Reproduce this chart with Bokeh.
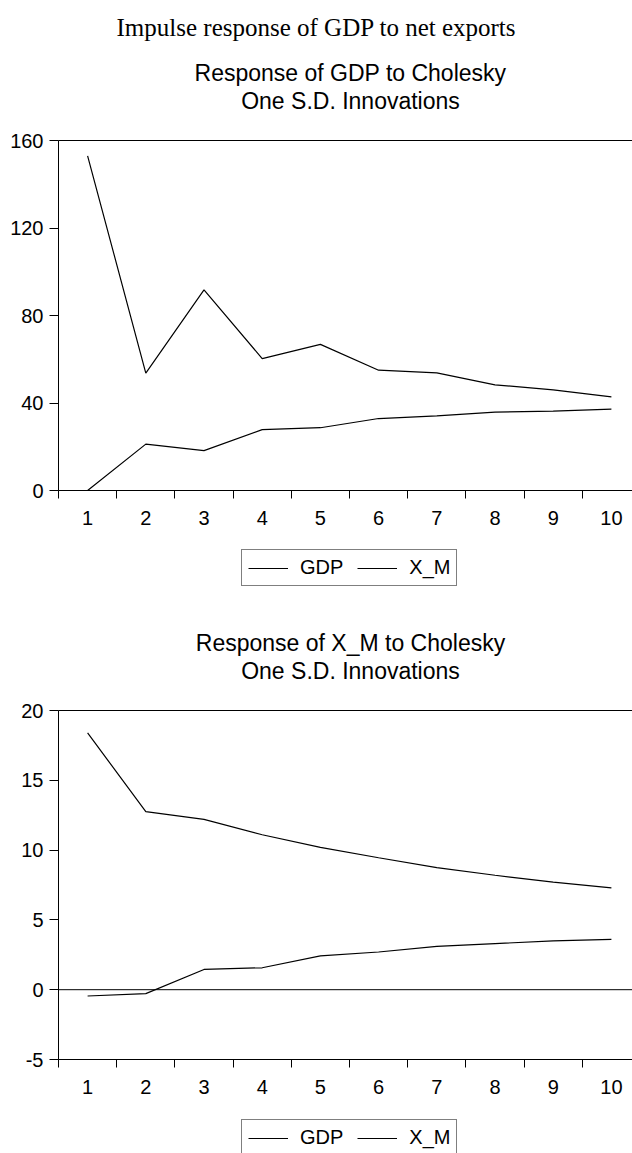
from bokeh.plotting import figure
from bokeh.models import (LinearAxis, FixedTicker, Span, Label, Legend,
                          LegendItem, Range1d)
from bokeh.layouts import column
from bokeh.embed import file_html
from bokeh.resources import INLINE

# ---------------- data ----------------
periods = [1, 2, 3, 4, 5, 6, 7, 8, 9, 10]
series_names = ["GDP", "X_M"]

# Response of GDP to Cholesky one S.D. innovations
gdp_resp_to_gdp = [153.0, 53.7, 91.7, 60.3, 66.8, 55.0, 53.8, 48.3, 46.0, 42.8]
gdp_resp_to_xm = [0.0, 21.2, 18.2, 27.8, 28.7, 32.9, 34.1, 35.8, 36.3, 37.2]

# Response of X_M to Cholesky one S.D. innovations
xm_resp_to_gdp = [-0.45, -0.28, 1.45, 1.57, 2.42, 2.7, 3.1, 3.3, 3.5, 3.6]
xm_resp_to_xm = [18.4, 12.75, 12.2, 11.1, 10.2, 9.45, 8.75, 8.2, 7.7, 7.3]

y_ticks_top = [0, 40, 80, 120, 160]
y_ticks_bottom = [-5, 0, 5, 10, 15, 20]

main_title = "Impulse response of GDP to net exports"
titles_top = ["Response of GDP to Cholesky", "One S.D. Innovations"]
titles_bottom = ["Response of X_M to Cholesky", "One S.D. Innovations"]

SANS = "Liberation Sans"
SERIF = "Liberation Serif"
W = 632
LEFT = 58
SUB_CX = 350 - LEFT    # sub-title centre, from the (aligned) frame left
MAIN_CX = 316 - LEFT   # main title centre
LEG_X = 241 - LEFT     # legend box left
LEG_H = 34             # approx. legend box height
NAN = float("nan")


def blank_fig(height):
    f = figure(width=W, height=height, x_range=Range1d(0, 1),
               y_range=Range1d(0, 1), x_axis_type=None, y_axis_type=None,
               output_backend="svg", toolbar_location=None, min_border=0,
               outline_line_color=None, background_fill_color="white",
               border_fill_color="white")
    f.grid.visible = False
    return f


def make_header(height, lines, main=None):
    h = blank_fig(height)
    h.add_layout(Label(x=SUB_CX, y=56, x_units="screen", y_units="screen",
                       text=lines[0], text_align="center",
                       text_baseline="middle", text_font=SANS,
                       text_font_size="23px", text_color="black"))
    h.add_layout(Label(x=SUB_CX, y=28, x_units="screen", y_units="screen",
                       text=lines[1], text_align="center",
                       text_baseline="middle", text_font=SANS,
                       text_font_size="23px", text_color="black"))
    if main is not None:
        h.add_layout(Label(x=MAIN_CX, y=height - 27, x_units="screen",
                           y_units="screen", text=main, text_align="center",
                           text_baseline="middle", text_font=SERIF,
                           text_font_size="25px", text_color="black"))
    return h


def make_legend_fig(height, top_gap):
    f = blank_fig(height)
    # legend keys: plain black lines (the key renderers hold no visible data)
    k1 = f.line(x=[NAN], y=[NAN], line_color="black", line_width=1.2)
    k2 = f.line(x=[NAN], y=[NAN], line_color="black", line_width=1.2)
    legend = Legend(items=[LegendItem(label=series_names[0], renderers=[k1]),
                           LegendItem(label=series_names[1], renderers=[k2])],
                    location=(LEG_X, height - top_gap - LEG_H),
                    orientation="horizontal",
                    border_line_color="black", border_line_width=1,
                    background_fill_color="white", background_fill_alpha=1,
                    padding=6, spacing=14, glyph_width=40, glyph_height=22,
                    label_standoff=12, label_height=22, margin=0,
                    label_text_font=SANS, label_text_font_size="20px",
                    label_text_color="black")
    f.add_layout(legend)
    return f


def make_chart(gdp_vals, xm_vals, y_lo, y_hi, yticks, height, frame_h,
               zero_line=False):
    mb_top = 12
    mb_bottom = height - mb_top - frame_h
    x_end = 0.5 + (W - LEFT) / 58.2
    p = figure(width=W, height=height,
               x_range=Range1d(0.5, x_end), y_range=Range1d(y_lo, y_hi),
               output_backend="svg", toolbar_location=None,
               min_border_left=LEFT, min_border_right=0,
               min_border_top=mb_top, min_border_bottom=mb_bottom,
               outline_line_color=None, background_fill_color="white",
               border_fill_color="white")
    p.grid.visible = False

    xa = p.xaxis[0]
    xa.ticker = FixedTicker(ticks=periods,
                            minor_ticks=[k + 0.5 for k in range(0, 11)])
    xa.major_tick_out = 0
    xa.major_tick_in = 0
    xa.minor_tick_out = 8
    xa.minor_tick_in = 0
    xa.minor_tick_line_color = "black"
    xa.axis_line_color = "black"
    xa.major_label_text_font = SANS
    xa.major_label_text_font_size = "20px"
    xa.major_label_text_color = "black"
    xa.major_label_standoff = 12

    ya = p.yaxis[0]
    ya.ticker = FixedTicker(ticks=yticks)
    ya.major_label_overrides = {t: str(t) for t in yticks}
    ya.major_tick_out = 9
    ya.major_tick_in = 0
    ya.minor_tick_line_color = None
    ya.major_tick_line_color = "black"
    ya.axis_line_color = "black"
    ya.major_label_text_font = SANS
    ya.major_label_text_font_size = "20px"
    ya.major_label_text_color = "black"
    ya.major_label_standoff = 6

    top = LinearAxis(ticker=FixedTicker(ticks=[]),
                     major_label_text_font_size="0px",
                     major_label_standoff=0,
                     major_tick_line_color=None, minor_tick_line_color=None,
                     axis_line_color="black")
    p.add_layout(top, "above")

    if zero_line:
        p.add_layout(Span(location=0, dimension="width",
                          line_color="black", line_width=1))

    p.line(periods, gdp_vals, line_color="black", line_width=1.2)
    p.line(periods, xm_vals, line_color="black", line_width=1.2)
    return p


# page y: 0..128 header | 128..530 chart (frame 140..490) | 530..600 legend
h1 = make_header(128, titles_top, main=main_title)
p1 = make_chart(gdp_resp_to_gdp, gdp_resp_to_xm, 0, 160, y_ticks_top,
                height=402, frame_h=350)
l1 = make_legend_fig(70, top_gap=22)
# page y: 600..698 header | 698..1099 chart (frame 710..1059) | 1099..1153
h2 = make_header(98, titles_bottom)
p2 = make_chart(xm_resp_to_gdp, xm_resp_to_xm, -5, 20, y_ticks_bottom,
                height=401, frame_h=349, zero_line=True)
l2 = make_legend_fig(54, top_gap=23)

layout = column(h1, p1, l1, h2, p2, l2, spacing=0)
open("out.html", "w").write(file_html(layout, INLINE))
